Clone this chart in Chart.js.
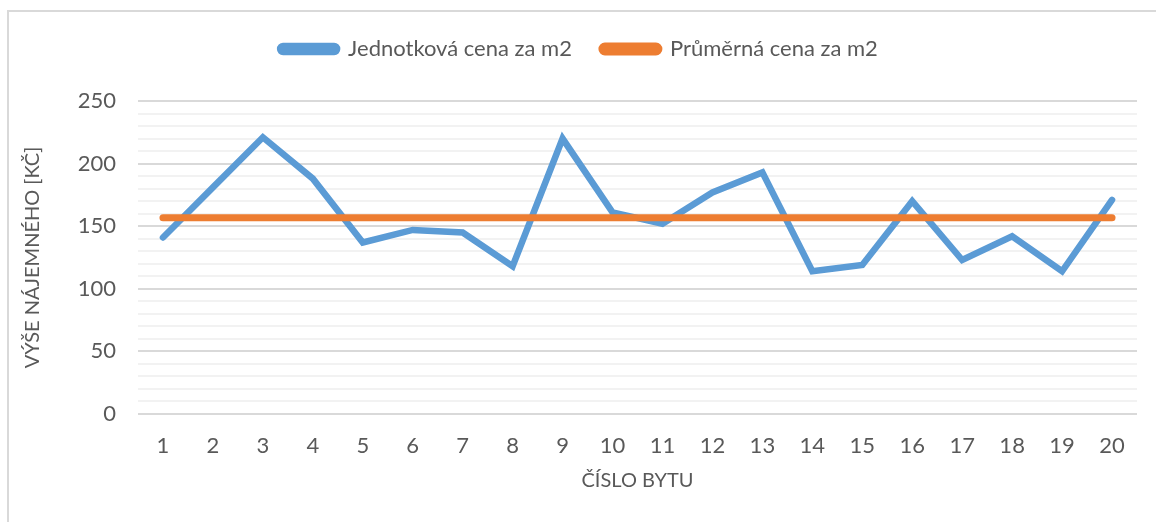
<!DOCTYPE html>
<html>
<head>
<meta charset="utf-8">
<script src="https://cdn.jsdelivr.net/npm/chart.js@4"></script>
<style>
  body { margin: 0; background: #fff; }
</style>
</head>
<body>
<canvas id="rentChart" width="1156" height="522"></canvas>
<script>
// data
var flats = ['1','2','3','4','5','6','7','8','9','10','11','12','13','14','15','16','17','18','19','20'];
var unitPrice = [141, 181, 221, 188, 137, 147, 145, 118, 220, 161, 152, 177, 193, 114, 119, 170, 123, 142, 114, 171];
var avgPrice = [156.7, 156.7, 156.7, 156.7, 156.7, 156.7, 156.7, 156.7, 156.7, 156.7, 156.7, 156.7, 156.7, 156.7, 156.7, 156.7, 156.7, 156.7, 156.7, 156.7];
var yTicks = [0, 50, 100, 150, 200, 250];

var textColor = '#595959';
Chart.defaults.font.family = 'Lato, "Open Sans", sans-serif';
Chart.defaults.color = textColor;

// light frame like the excel chart area
var frame = {
  id: 'frame',
  beforeDraw: function(chart) {
    var ctx = chart.ctx;
    ctx.save();
    ctx.strokeStyle = '#d9d9d9';
    ctx.lineWidth = 2;
    ctx.strokeRect(8, 11, 1160, 530);
    ctx.restore();
  }
};

// extra space under the legend
var legendGap = {
  id: 'legendGap',
  beforeUpdate: function(chart) {
    var lg = chart.legend;
    if (!lg || lg._gapPatched) return;
    var fit = lg.fit;
    lg.fit = function() {
      fit.call(lg);
      lg.height += 31;
    };
    lg._gapPatched = true;
  }
};

new Chart('rentChart', {
  type: 'line',
  data: {
    labels: flats,
    datasets: [{
      label: 'Jednotková cena za m2',
      data: unitPrice,
      borderColor: '#5B9BD5',
      backgroundColor: '#5B9BD5',
      borderWidth: 6.5,
      borderCapStyle: 'round',
      borderJoinStyle: 'miter',
      pointRadius: 0,
      tension: 0,
      order: 2
    }, {
      label: 'Průměrná cena za m2',
      data: avgPrice,
      borderColor: '#ED7D31',
      backgroundColor: '#ED7D31',
      borderWidth: 7,
      borderCapStyle: 'round',
      pointRadius: 0,
      tension: 0,
      order: 1
    }]
  },
  options: {
    responsive: false,
    animation: false,
    layout: {
      padding: { top: 8, right: 19, bottom: 29, left: 21 }
    },
    plugins: {
      tooltip: { enabled: false },
      legend: {
        position: 'top',
        labels: {
          boxWidth: 57,
          boxHeight: 6,
          useBorderRadius: true,
          borderRadius: 3,
          padding: 30,
          font: { size: 22 },
          sort: function(a, b) { return a.datasetIndex - b.datasetIndex; }
        }
      }
    },
    scales: {
      x: {
        offset: true,
        grid: { display: false, drawTicks: false },
        border: { display: false },
        ticks: { padding: 19, font: { size: 22 }, maxRotation: 0 },
        title: {
          display: true,
          text: 'ČÍSLO BYTU',
          font: { size: 20 },
          padding: { top: 14, bottom: 0 }
        },
        afterFit: function(scale) { scale.height = 79; }
      },
      y: {
        min: 0,
        max: 250,
        border: { display: false },
        grid: {
          drawTicks: false,
          lineWidth: 2,
          color: function(c) {
            return yTicks.indexOf(c.tick.value) >= 0 ? '#d9d9d9' : '#f2f2f2';
          }
        },
        ticks: {
          stepSize: 10,
          autoSkip: false,
          padding: 22,
          font: { size: 22 },
          callback: function(v) { return yTicks.indexOf(v) >= 0 ? v : ''; }
        },
        title: {
          display: true,
          text: 'VÝŠE NÁJEMNÉHO [KČ]',
          font: { size: 20 },
          padding: 0
        },
        afterFit: function(scale) { scale.width = 117; }
      }
    }
  },
  plugins: [frame, legendGap]
});
</script>
</body>
</html>
